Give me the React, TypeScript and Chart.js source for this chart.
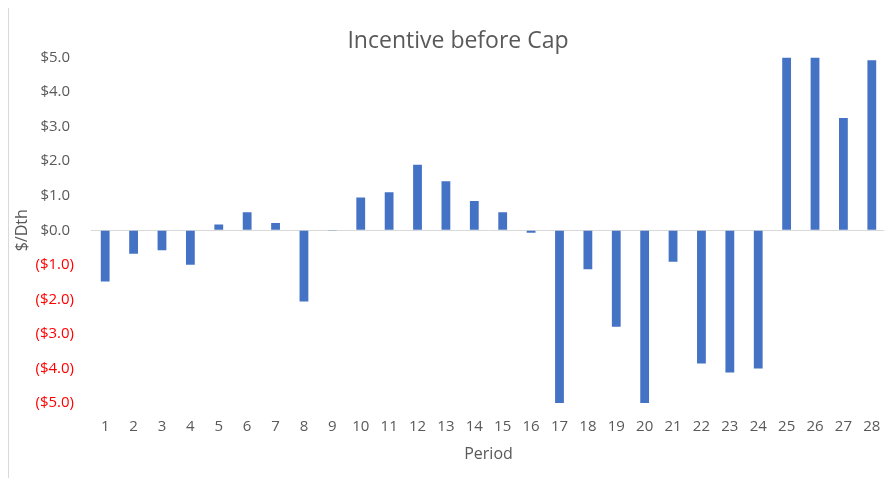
import React, { useEffect, useRef } from "react";
import { Chart, registerables } from "chart.js";

Chart.register(...registerables);

const periods = [
  "1", "2", "3", "4", "5", "6", "7", "8", "9", "10", "11", "12", "13", "14",
  "15", "16", "17", "18", "19", "20", "21", "22", "23", "24", "25", "26", "27", "28",
];

const incentive = [
  -1.48, -0.68, -0.58, -1.0, 0.17, 0.52, 0.21, -2.06, -0.02, 0.95, 1.1, 1.9, 1.42, 0.85,
  0.52, -0.07, -5.0, -1.13, -2.79, -5.0, -0.91, -3.86, -4.12, -4.0, 5.0, 5.0, 3.25, 4.92,
];

const chartTitle = "Incentive before Cap";
const xAxisTitle = "Period";
const yAxisTitle = "$/Dth";
const yMin = -5;
const yMax = 5;
const yStep = 1;

const FONT = "'Open Sans', 'Noto Sans', sans-serif";
const GREY = "#595959";
const RED = "#FF0000";
const BAR = "#4472C4";

function fmt(v: number): string {
  if (v < 0) return "($" + Math.abs(v).toFixed(1) + ")";
  return "$" + v.toFixed(1) + " ";
}

export default function App() {
  const ref = useRef<HTMLCanvasElement>(null);

  useEffect(() => {
    if (!ref.current) return;
    const chart = new Chart(ref.current, {
      type: "bar",
      data: {
        labels: periods,
        datasets: [
          {
            data: incentive,
            backgroundColor: BAR,
            barPercentage: 0.31,
            categoryPercentage: 1,
          },
        ],
      },
      options: {
        animation: false,
        responsive: false,
        devicePixelRatio: 1,
        layout: { padding: { left: 21, right: 21, top: 0, bottom: 0 } },
        plugins: {
          legend: { display: false },
          tooltip: { enabled: false },
          title: {
            display: true,
            text: chartTitle,
            color: GREY,
            font: { family: FONT, size: 23, weight: "normal" },
            padding: { top: 20, bottom: 2 },
          },
        },
        scales: {
          x: {
            grid: { display: false, drawTicks: false },
            border: { display: false },
            ticks: {
              color: GREY,
              font: { family: FONT, size: 15 },
              padding: 15,
              maxRotation: 0,
              autoSkip: false,
            },
            title: {
              display: true,
              text: xAxisTitle,
              color: GREY,
              font: { family: FONT, size: 16 },
              padding: { top: 0, bottom: 14 },
            },
            afterFit: (s: any) => {
              s.height = 75;
            },
          },
          y: {
            min: yMin,
            max: yMax,
            ticks: {
              stepSize: yStep,
              padding: 17,
              color: (c: any) => (c.tick && c.tick.value < 0 ? RED : GREY),
              font: { family: FONT, size: 15 },
              callback: (v: any) => fmt(Number(v)),
            },
            grid: {
              color: (c: any) =>
                c.tick && c.tick.value === 0 ? "#d9d9d9" : "rgba(0,0,0,0)",
              drawTicks: false,
              lineWidth: 1,
            },
            border: { display: false },
            title: {
              display: true,
              text: yAxisTitle,
              color: GREY,
              font: { family: FONT, size: 16 },
              padding: { top: -17, bottom: 0 },
            },
            afterFit: (s: any) => {
              s.width = 61;
            },
          },
        },
      },
    });
    return () => chart.destroy();
  }, []);

  return (
    <div
      style={{
        position: "relative",
        top: -1,
        width: 884,
        height: 470,
        overflow: "hidden",
        borderTop: "1px solid #d9d9d9",
        borderLeft: "1px solid #d9d9d9",
        background: "#fff",
      }}
    >
      <canvas ref={ref} width={898} height={470} style={{ width: 898, height: 470, display: "block" }} />
    </div>
  );
}
